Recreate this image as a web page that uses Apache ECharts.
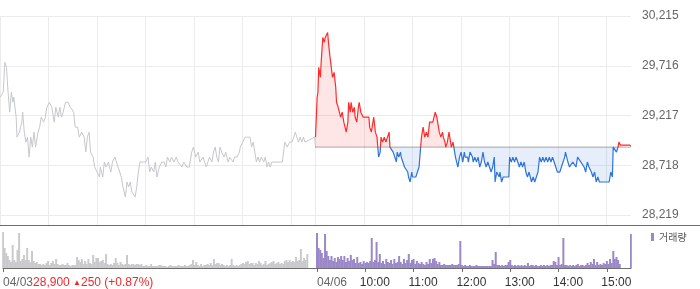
<!DOCTYPE html>
<html><head><meta charset="utf-8">
<script src="https://cdn.jsdelivr.net/npm/echarts@6/dist/echarts.min.js"></script>
<style>html,body{margin:0;padding:0;background:#fff}#c{width:700px;height:289px}</style>
</head><body><div id="c"></div>
<script>
// ---- data ----
const dates = ['04/03', '04/06'];
const prevClose = 28900;               // 04/03 close = 04/06 baseline
const closeText = ['28,900 ', '▲', '250 (+0.87%)'];
const yMin = 28219, yMax = 30215, yStep = 499;   // tick labels 28,219 … 30,215
const dateTickMinutes = [0, 390];
const hourTickMinutes = [450, 510, 570, 630, 690, 750];
const hourTickLabels = ['10:00', '11:00', '12:00', '13:00', '14:00', '15:00'];
const gridMinutes = [0, 60, 120, 180, 240, 300, 360, 390, 450, 510, 570, 630, 690, 750];

// 04/03 price (minutes after 09:00)
const day1Min = [0,4,6,8,10,12,14,16,17,20,21,24,27,28,30,32,34,36,38,40,42,44,47,49,51,54,56,58,61,64,67,69,72,74,76,78,81,84,87,91,93,96,98,101,104,106,108,110,112,115,117,120,123,124,127,129,131,134,137,139,142,144,148,150,152,155,157,159,161,163,165,167,169,171,173,175,177,180,183,185,187,190,192,194,197,200,203,205,207,210,212,215,218,220,222,225,227,231,234,237,239,242,245,247,251,253,255,259,262,264,266,268,270,272,274,277,279,282,284,288,290,293,296,297,300,303,306,309,311,313,315,317,319,321,323,326,328,330,332,334,336,349,352,355,358,361,363,365,367,369,371,373,375,377,389,390];
const day1Price = [29400,29450,29750,29700,29450,29250,29450,29350,29400,29200,29000,29050,29150,29250,29050,28950,29000,28800,29000,28900,29050,28900,29050,29100,29200,29150,29200,29300,29350,29300,29150,29300,29200,29300,29200,29250,29350,29350,29300,29250,29100,29100,29000,29050,29000,28850,29000,29050,28850,28800,28700,28650,28600,28700,28600,28750,28700,28750,28650,28750,28800,28750,28650,28600,28500,28400,28550,28500,28550,28450,28450,28400,28500,28650,28750,28750,28750,28750,28800,28650,28700,28650,28750,28600,28700,28750,28750,28700,28800,28750,28800,28750,28800,28750,28750,28700,28750,28700,28700,28850,28900,28800,28850,28750,28800,28800,28700,28800,28750,28850,28900,28800,28750,28900,28850,28800,28850,28750,28800,28750,28800,28800,28850,28900,28950,29000,29000,29000,28900,28950,28850,28750,28800,28750,28800,28750,28800,28700,28750,28700,28750,28750,28950,28900,28950,28950,29000,29050,29050,28950,29000,28950,29000,28950,29000,28900];

// 04/06 price (minutes after 09:00)
const day2Min = [0,2,3,4,6,7,9,11,12,13,15,16,18,20,21,23,25,26,28,30,31,33,35,36,38,40,41,43,44,46,48,49,51,53,54,56,58,59,61,63,64,66,67,69,71,72,74,76,77,78,80,81,83,85,87,89,91,92,94,96,98,100,101,103,105,106,108,110,112,114,115,117,119,120,122,124,126,128,130,131,133,135,137,139,141,145,147,148,150,152,153,155,157,158,160,161,163,165,166,168,170,171,173,175,176,178,180,182,184,185,188,189,191,194,195,197,199,201,203,205,207,209,211,213,215,217,219,221,222,224,227,228,230,232,239,240,242,244,246,248,250,252,254,256,258,260,262,264,267,269,271,273,275,277,279,281,283,285,287,289,291,293,295,297,299,302,304,306,308,309,311,312,314,316,318,320,322,324,326,328,330,332,334,336,338,341,343,345,347,349,351,363,365,367,368,370,372,374,375,377,388,390];
const day2Price = [29000,29400,29450,29700,29600,29750,30000,29950,30000,30000,30050,29950,29800,29800,29600,29650,29500,29350,29300,29300,29200,29250,29150,29150,29050,29150,29350,29250,29350,29250,29300,29200,29150,29300,29350,29250,29250,29200,29200,29200,29200,29200,29100,29050,29150,29200,29050,29000,28900,28800,28850,29000,28950,29000,28950,29000,29050,28900,28900,28850,28850,28750,28850,28800,28850,28800,28750,28700,28700,28650,28600,28550,28650,28600,28600,28600,28650,28700,28900,29000,29100,29000,29050,29000,29150,29150,29150,29250,29200,29100,29050,29000,29050,29000,28950,28900,28950,29050,29000,28900,28950,28900,28800,28800,28700,28800,28850,28750,28850,28800,28800,28750,28850,28800,28750,28800,28750,28800,28700,28750,28850,28750,28700,28750,28700,28650,28700,28800,28550,28650,28600,28650,28550,28600,28600,28800,28750,28800,28750,28800,28750,28700,28750,28700,28750,28650,28600,28650,28550,28600,28550,28600,28650,28800,28750,28800,28750,28800,28750,28800,28750,28800,28750,28700,28650,28650,28700,28750,28800,28850,28850,28750,28700,28700,28750,28750,28700,28800,28800,28750,28750,28700,28650,28750,28700,28650,28600,28650,28550,28600,28550,28550,28650,28600,28900,28900,28850,28900,28950,28920,28920,28910];

// volume, 2-minute buckets (relative units)
const day1Vol = [36,20,15,12,8,6,23,8,6,18, 35,7,9,13,8,20,8,6,17,7, 5,6,4,4,3,4,3,5,7,3, 5,7,4,9,4,3,3,4,3,3, 5,3,2,3,3,3,11,8,6,9, 4,7,4,9,5,4,13,6,10,10, 6,7,8,5,14,4,3,4,3,5, 10,5,3,6,4,3,4,13,4,3, 4,4,3,4,4,3,4,2,2,3, 2,2,4,2,2,2,2,3,3,2, 2,2,1,2,3,2,2,2,2,3, 2,2,2,3,2,2,3,4,8,3, 6,3,2,4,2,3,3,4,3,5, 3,9,4,5,5,3,4,3,2,3, 2,3,9,3,2,3,2,3,4,5, 4,6,7,4,5,5,3,5,4,7, 5,3,4,7,3,4,5,6,7,4, 5,6,4,5,4,7,8,6,8,6, 7,6,11,7,8,19,7,10,8,14, 0,0,0,0,0];
const day2Vol = [35,20,18,15,10,34,17,12,8,12, 7,10,6,11,9,12,8,12,6,10, 7,13,8,9,5,11,5,6,4,7, 5,6,5,7,30,6,8,26,6,14, 5,7,4,9,6,5,8,4,9,5, 6,12,6,4,9,5,8,14,5,8, 9,4,7,5,4,6,4,3,6,4, 9,5,9,10,7,4,6,3,3,4, 3,3,3,3,4,3,3,3,4,27, 3,2,3,2,2,3,2,2,2,3, 2,2,2,2,2,2,2,2,2,8, 4,16,3,3,2,3,2,3,3,6, 8,3,2,3,2,3,2,3,2,3, 2,5,2,3,3,2,3,2,2,3, 2,3,2,3,2,3,3,7,6,3, 11,3,4,30,3,3,2,3,2,3, 2,3,4,2,3,3,2,3,5,3, 6,4,9,3,6,3,4,3,5,4, 7,4,9,5,17,9,11,8,4,0, 0,0,0,0,0,34];

// ---- chart ----
const cats = [];
for (let i = 0; i <= 780; i++) {
  const d = i < 390 ? 0 : 1, m = d ? i - 390 : i;
  cats.push(dates[d] + ' ' + String(9 + Math.floor(m / 60)).padStart(2, '0') + ':' + String(m % 60).padStart(2, '0'));
}
const gridSet = new Set(gridMinutes), dateSet = new Set(dateTickMinutes), hourSet = new Set(hourTickMinutes);
const fmt = v => String(Math.round(v)).replace(/\B(?=(\d{3})+(?!\d))/g, ',');
const FONT = '"Liberation Sans", Arial, sans-serif';
const UP = '#ff2b2b', DOWN = '#2f74d8';

const chart = echarts.init(document.getElementById('c'), null, {renderer: 'canvas'});
chart.setOption({
  animation: false,
  textStyle: {fontFamily: FONT},
  grid: [
    {left: 0, right: 69, top: 16, height: 199},
    {left: 0, right: 69, top: 16, height: 209},
    {left: 0, right: 69, top: 228, height: 40}
  ],
  xAxis: [
    {gridIndex: 0, type: 'category', data: cats, boundaryGap: false, show: false},
    {gridIndex: 1, type: 'category', data: cats, boundaryGap: false,
     axisLine: {show: false}, axisTick: {show: false}, axisLabel: {show: false},
     splitLine: {show: true, interval: (i) => gridSet.has(i), lineStyle: {color: '#ebebeb', width: 1}}},
    {gridIndex: 2, type: 'category', data: cats, boundaryGap: false, position: 'bottom',
     axisLine: {lineStyle: {color: '#6f6f6f', width: 1}},
     axisTick: {interval: (i) => dateSet.has(i), length: 4, lineStyle: {color: '#6f6f6f'}},
     axisLabel: {interval: (i) => dateSet.has(i), align: 'left', margin: 9,
       formatter: (v, i) => i === 0
         ? '{d|' + dates[0] + '}{r|' + closeText[0] + '}{a|' + closeText[1] + '}{r|' + closeText[2] + '}'
         : '{d|' + dates[1] + '}',
       rich: {
         d: {color: '#666', fontSize: 12, fontFamily: FONT},
         r: {color: '#f0282d', fontSize: 12, fontFamily: FONT},
         a: {color: '#f0282d', fontSize: 8, fontFamily: FONT}
       }},
     splitLine: {show: false}},
    {gridIndex: 2, type: 'category', data: cats, boundaryGap: false, position: 'bottom',
     axisLine: {show: false},
     axisTick: {interval: (i) => hourSet.has(i), length: 4, lineStyle: {color: '#6f6f6f'}},
     axisLabel: {interval: (i) => hourSet.has(i), align: 'center', margin: 9, padding: [0, 0, 0, 19],
       color: '#333', fontSize: 12,
       formatter: (v, i) => hourTickLabels[hourTickMinutes.indexOf(i)]},
     splitLine: {show: false}}
  ],
  yAxis: [
    {gridIndex: 0, type: 'value', position: 'right', min: yMin, max: yMax, interval: yStep,
     axisLine: {show: false}, axisTick: {show: false},
     splitLine: {lineStyle: {color: '#ebebeb', width: 1}},
     axisLabel: {margin: 11, color: '#666', fontSize: 12, formatter: fmt}},
    {gridIndex: 1, type: 'value', show: false, min: 0, max: 1},
    {gridIndex: 2, type: 'value', show: false, min: 0, max: 40}
  ],
  visualMap: {show: false, type: 'piecewise', seriesIndex: 1, dimension: 1,
    pieces: [{gte: yMin, lt: prevClose, color: DOWN}, {gte: prevClose, lte: yMax, color: UP}],
    outOfRange: {color: UP}},
  legend: {data: ['거래량'], left: 651, top: 232, padding: 0, itemWidth: 3, itemHeight: 8, icon: 'rect',
    textStyle: {fontSize: 10, color: '#555', fontFamily: '"Noto Sans CJK KR", sans-serif'}},
  graphic: [{type: 'line', shape: {x1: 0, y1: 225.5, x2: 700, y2: 225.5}, style: {stroke: '#6f6f6f', lineWidth: 1}, silent: true}],
  series: [
    {type: 'line', xAxisIndex: 0, yAxisIndex: 0, showSymbol: false, symbol: 'none',
     data: day1Min.map((m, i) => [m, day1Price[i]]),
     lineStyle: {color: '#c6c7cb', width: 1}, itemStyle: {color: '#c6c7cb'}},
    {type: 'line', xAxisIndex: 0, yAxisIndex: 0, showSymbol: false, symbol: 'none',
     data: day2Min.map((m, i) => [390 + m, day2Price[i]]),
     lineStyle: {width: 1.2}, areaStyle: {origin: prevClose, opacity: 0.12}},
    {type: 'line', xAxisIndex: 0, yAxisIndex: 0, showSymbol: false, symbol: 'none',
     data: [[390, prevClose], [780, prevClose]],
     lineStyle: {color: '#555', width: 1, type: [1, 1]}, itemStyle: {color: '#555'}},
    {type: 'bar', name: 'v1', xAxisIndex: 2, yAxisIndex: 2, barWidth: 2, barGap: '-100%',
     data: day1Vol.map((v, k) => [2 * k, v]), itemStyle: {color: '#c9cacd'}},
    {type: 'bar', name: '거래량', xAxisIndex: 2, yAxisIndex: 2, barWidth: 2, barGap: '-100%',
     data: day2Vol.map((v, k) => [390 + 2 * k, v]), itemStyle: {color: '#9b88c8'}}
  ]
});
</script></body></html>
